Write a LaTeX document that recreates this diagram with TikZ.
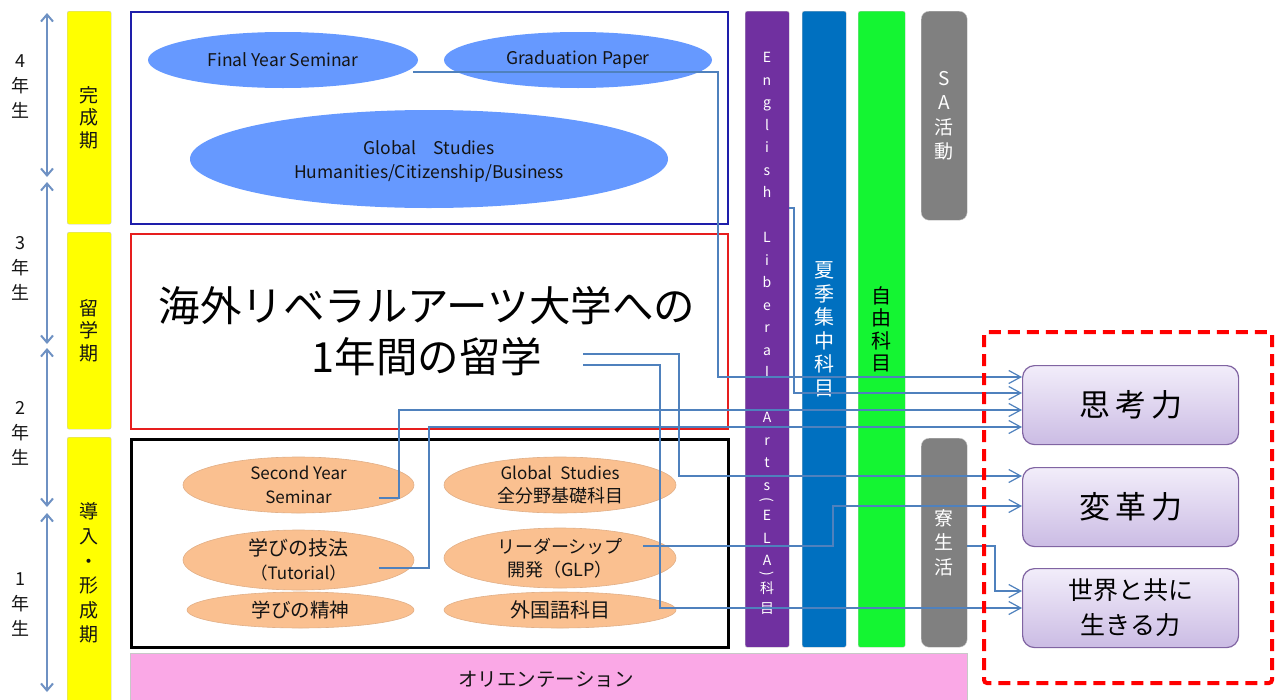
\documentclass[tikz,border=0pt]{standalone}
\usepackage{fontspec}
\setmainfont{Noto Sans CJK JP}
\usetikzlibrary{arrows.meta,shapes.geometric}
\definecolor{ylw}{RGB}{255,255,0}
\definecolor{ellblue}{RGB}{102,153,255}
\definecolor{ellorange}{RGB}{250,192,144}
\definecolor{ellorangeedge}{RGB}{225,175,135}
\definecolor{purplebar}{RGB}{112,48,160}
\definecolor{bluebar}{RGB}{0,112,192}
\definecolor{greenbar}{RGB}{20,245,50}
\definecolor{graybar}{RGB}{128,128,128}
\definecolor{pinkbar}{RGB}{250,168,230}
\definecolor{connblue}{RGB}{79,129,189}
\definecolor{yearblue}{RGB}{110,145,195}
\definecolor{boxblue}{RGB}{30,30,170}
\definecolor{boxred}{RGB}{230,30,30}
\definecolor{capborder}{RGB}{128,100,162}
\definecolor{captop}{RGB}{242,237,250}
\definecolor{capbot}{RGB}{203,188,228}
\definecolor{edgegray}{RGB}{200,200,200}
\definecolor{txt}{RGB}{20,20,20}
\newcommand\myfs[2]{\fontsize{#1}{#2}\selectfont}
\begin{document}
\begin{tikzpicture}[x=1pt,y=-1pt,
  yearlbl/.style={align=center,text=txt,font=\myfs{18}{25},inner sep=0pt},
  yearaxis/.style={draw=yearblue,line width=2pt,{Straight Barb[length=7pt,width=12pt]}-{Straight Barb[length=7pt,width=12pt]}},
  phase/.style={draw=edgegray,fill=ylw,rounded corners=2pt,anchor=north west,inner sep=0pt,align=center,text=txt,font=\myfs{19}{22.5}},
  frame/.style={anchor=north west,inner sep=0pt,minimum width=597pt},
  blueell/.style={ellipse,fill=ellblue,inner sep=0pt,align=center,text=txt,font=\myfs{17.5}{24}},
  orell/.style={ellipse,fill=ellorange,draw=ellorangeedge,line width=0.6pt,inner sep=0pt,align=center,text=txt,font=\myfs{17}{23.5}},
  elltext/.style={inner sep=0pt,align=center,text=txt},
  vbar/.style={anchor=north west,inner sep=0pt,rounded corners=2pt,draw=edgegray,align=center,minimum width=44pt},
  elach/.style={inner sep=0pt,text=white,font=\myfs{14}{16},anchor=base},
  sabox/.style={anchor=north west,inner sep=0pt,rounded corners=8pt,draw=edgegray,fill=graybar,align=center,minimum width=46pt,text=white,font=\myfs{19}{24.5}},
  capbox/.style={anchor=north west,rounded corners=12pt,draw=capborder,line width=1.2pt,top color=captop,bottom color=capbot,minimum width=216pt,minimum height=79pt,inner sep=0pt,align=center,text=black},
  conn/.style={draw=connblue,line width=1.2pt},
  conna/.style={conn,-{Straight Barb[length=12pt,width=13pt]}}
]
\useasboundingbox (0,0) rectangle (1280,699);

% year axis
\draw[yearaxis] (47,13) -- (47,177);
\draw[yearaxis] (47,182) -- (47,344);
\draw[yearaxis] (47,348) -- (47,507);
\draw[yearaxis] (47,513) -- (47,692);
\node[yearlbl] (y4) at (20,87) {4\\年\\生};
\node[yearlbl] (y3) at (20,268) {3\\年\\生};
\node[yearlbl] (y2) at (20,433) {2\\年\\生};
\node[yearlbl] (y1) at (20,605) {1\\年\\生};

% phases
\node[phase,minimum width=44pt,minimum height=213pt] (p4) at (67,11) {完\\成\\期};
\node[phase,minimum width=44pt,minimum height=197pt] (p3) at (67,232) {留\\学\\期};
\node[phase,minimum width=44pt,minimum height=272pt,font=\myfs{19}{24.6}] (p1) at (67,437) {導\\入\\・\\形\\成\\期};

% frames
\node[frame,draw=boxblue,line width=2.2pt,minimum height=212pt] (fb) at (130,11) {};
\node[frame,draw=boxred,line width=2pt,minimum height=195pt] (fr) at (130,233) {};
\node[frame,draw=black,line width=2.5pt,minimum height=208pt] (fk) at (130,438) {};

% top ellipses
\node[blueell,minimum width=270pt,minimum height=56pt] (fys) at (283,60) {Final Year Seminar};
\node[blueell,minimum width=268pt,minimum height=56pt] (gp) at (578,60) {Graduation Paper};
\node[blueell,minimum width=478pt,minimum height=98pt] (gs) at (429,159) {};
\node[elltext,font=\myfs{17.5}{24}] (gst) at (429,162) {Global\quad Studies\\Humanities/Citizenship/Business};

% study abroad text
\node[align=center,text=black,font=\myfs{41.5}{51},inner sep=0pt] (ryu) at (427,331) {海外リベラルアーツ大学への\\1年間の留学};

% bottom ellipses
\node[orell,minimum width=231pt,minimum height=56pt] (sys) at (298.5,485) {Second Year\\Seminar};
\node[orell,minimum width=232pt,minimum height=56pt] (gsb) at (560,485) {Global\enspace Studies\\{\myfs{18}{23.5}全分野基礎科目}};
\node[orell,minimum width=231pt,minimum height=60pt] (tut) at (298.5,560) {{\myfs{20}{23.5}学びの技法}\\（Tutorial）};
\node[orell,minimum width=232pt,minimum height=60pt,font=\myfs{18}{23.5}] (glp) at (560,558) {リーダーシップ\\開発（GLP）};
\node[orell,minimum width=227pt,minimum height=36pt,font=\myfs{19.5}{23.5}] (sei) at (300.5,610) {学びの精神};
\node[orell,minimum width=232pt,minimum height=36pt,font=\myfs{20}{23.5}] (gai) at (560,610) {外国語科目};

% vertical bars
\node[vbar,fill=purplebar,minimum height=636pt] (ela) at (745,11) {};
\foreach \c/\y [count=\i] in {E/57,n/80,g/102,l/125,i/147,s/170,h/192,L/237,i/260,b/282,e/305,r/327,a/350,l/372,A/417,r/440,t/462,s/485,E/515,L/538,A/560,科/588,目/608}
  \node[elach] (ela-\i) at (767,\y+5) {\c};
\node[elach,anchor=center,rotate=-90] (ela-lp) at (767,500) {(};
\node[elach,anchor=center,rotate=-90] (ela-rp) at (767,574) {)};
\node[vbar,fill=bluebar,minimum height=636pt,text=white,font=\myfs{20}{23.5}] (sum) at (802,11) {夏\\季\\集\\中\\科\\目};
\node[vbar,fill=greenbar,minimum height=636pt,minimum width=47pt,text=black,font=\myfs{20}{22.5}] (free) at (858,11) {自\\由\\科\\目};
\node[sabox,minimum height=209pt] (sa) at (921,11) {S\\A\\活\\動};
\node[sabox,minimum height=209pt] (ryo) at (921,438) {寮\\生\\活};

% orientation
\node[anchor=north west,inner sep=0pt,draw=edgegray,fill=pinkbar,minimum width=837pt,minimum height=52pt] (ori) at (130,653) {};
\node[text=txt,font=\myfs{19.5}{24},inner sep=0pt] (orit) at (546,679) {オリエンテーション};

% capability boxes
\node[capbox,font=\myfs{31}{36}] (sk) at (1022,365) {思\hspace{5pt}考\hspace{5pt}力};
\node[capbox,font=\myfs{31}{36}] (hk) at (1022,467) {変\hspace{5pt}革\hspace{5pt}力};
\node[capbox,font=\myfs{25}{35}] (sl) at (1022,568) {世界と共に\\生きる力};

% connectors
\draw[conna] ([shift={(-5,12)}]fys.east) -| (718,377) -- (sk.west |- 0,377);
\draw[conna] (ela.east |- 0,208) -| (794,393) -- (sk.west |- 0,393);
\draw[conna] ([shift={(80.5,13)}]sys.center) -| (399,410) -- (sk.west |- 0,410);
\draw[conna] ([shift={(80.5,8)}]tut.center) -| (429,427) -- (sk.west |- 0,427);
\draw[conna] ([shift={(156,23)}]ryu.center) -| (679,476) -- (hk.west |- 0,476);
\draw[conna] ([shift={(83,-12)}]glp.center) -| (833,506) -- (hk.west |- 0,506);
\draw[conna] (ryo.east |- 0,546) -| (995,591) -- (sl.west |- 0,591);
\draw[conna] ([shift={(156,34)}]ryu.center) -| (660,608) -- (sl.west |- 0,608);

% dashed outline
\draw[draw=red,line width=4pt,dash pattern=on 12pt off 7pt,rounded corners=3pt] (984,332) rectangle (1272,683);
\end{tikzpicture}
\end{document}
